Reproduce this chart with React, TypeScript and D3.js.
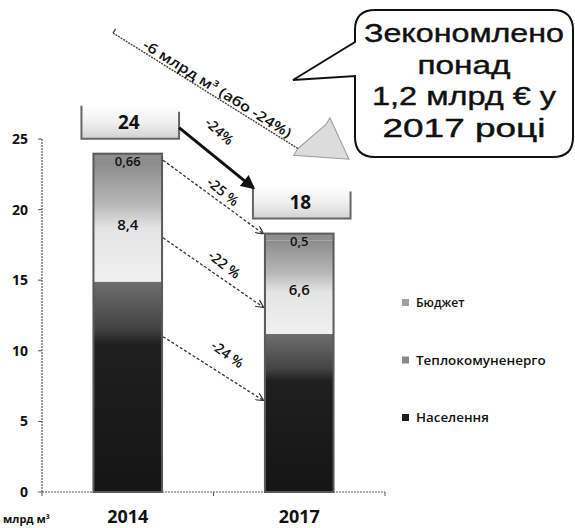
import React from 'react'
import * as d3 from 'd3'

// data (млрд м³)
const years = ['2014', '2017']
const totalLabels = ['24', '18']
const naselennia = [14.9, 11.2]
const teplokomunenergo = [8.4, 6.6]
const biudzhet = [0.66, 0.5]
const teploLabels = ['8,4', '6,6']
const biudzhetLabels = ['0,66', '0,5']
const legendNames = ['Бюджет', 'Теплокомуненерго', 'Населення']
const yTicks = [0, 5, 10, 15, 20, 25]
const arrowFrom = [23.5, 18.0, 11.0]
const arrowTo = [18.3, 13.1, 6.5]
const arrowLabels = ['-25 %', '-22 %', '-24 %']
const totalChangeLabel = '-24%'
const bigArrowText = '-6 млрд м³ (або -24%)'
const calloutLines = ['Зекономлено', 'понад', '1,2 млрд € у', '2017 році']
const unitLabel = 'млрд м³'

// layout
const W = 575
const H = 528
const arrowLabelLift = [8, 11, 18]
const calloutWidths = [200, 93, 184, 163]
const sans = "'Open Sans', 'Noto Sans', sans-serif"
const arial = "'Liberation Sans', Arial, sans-serif"

const keys = ['Населення', 'Теплокомуненерго', 'Бюджет']
const fills: Record<string, string> = {
  Населення: 'url(#gNas)',
  Теплокомуненерго: 'url(#gTep)',
  Бюджет: '#8e8e8e'
}
const legendColors: Record<string, string> = {
  Бюджет: '#a0a0a0',
  Теплокомуненерго: '#8a8a8a',
  Населення: '#1c1c1c'
}

export default function App() {
  const x = d3.scaleBand<string>().domain(years).range([42, 385]).paddingInner(0.6).paddingOuter(0.3)
  const y = d3.scaleLinear().domain([0, 25]).range([492, 139])
  const bw = x.bandwidth()

  const rows = years.map((year, i) => ({
    year,
    Населення: naselennia[i],
    Теплокомуненерго: teplokomunenergo[i],
    Бюджет: biudzhet[i]
  }))
  const series = d3.stack<any>().keys(keys)(rows)

  const legendY = d3.scalePoint<string>().domain(legendNames).range([303, 418])

  // boxes with totals
  const boxes = years.map((yr, i) => {
    const left = (x(yr) as number) - 12
    const right = (x(yr) as number) + bw + 17
    const bottom = y(series[2][i][1]) - 15
    return { left, right, bottom, top: bottom - 33 }
  })

  const x0 = (x(years[0]) as number) + bw + 1
  const x1 = (x(years[1]) as number) - 2

  // big arrow head (local, rotated frame)
  const bigHead = d3.line()([[218, 0], [218, 8], [267, -18], [229, -43], [229, -35]]) + 'Z'

  return (
    <svg width={W} height={H} style={{ position: 'absolute', left: 0, top: 0, background: '#fff' }}>
      <defs>
        <linearGradient id="gNas" x1="0" y1="0" x2="0" y2="1">
          <stop offset="0" stopColor="#6e6e6e" />
          <stop offset="0.22" stopColor="#444" />
          <stop offset="0.3" stopColor="#1f1f1f" />
          <stop offset="1" stopColor="#151515" />
        </linearGradient>
        <linearGradient id="gTep" x1="0" y1="0" x2="0" y2="1">
          <stop offset="0" stopColor="#8c8c8c" />
          <stop offset="0.35" stopColor="#b8b8b8" />
          <stop offset="0.55" stopColor="#e4e4e4" />
          <stop offset="1" stopColor="#f0f0f0" />
        </linearGradient>
        <linearGradient id="gBox" x1="0" y1="0" x2="0" y2="1">
          <stop offset="0" stopColor="#fff" />
          <stop offset="0.5" stopColor="#f0f0f0" />
          <stop offset="1" stopColor="#d2d2d2" />
        </linearGradient>
        <marker id="openHead" viewBox="0 0 10 10" refX="9" refY="5" markerWidth="8" markerHeight="8" orient="auto" markerUnits="userSpaceOnUse">
          <path d="M0,0 L10,5 L0,10" fill="none" stroke="#333" strokeWidth="1.5" />
        </marker>
        <marker id="solidHead" viewBox="0 0 10 10" refX="8" refY="5" markerWidth="16" markerHeight="14" orient="auto" markerUnits="userSpaceOnUse">
          <path d="M0,0 L10,5 L0,10 Z" fill="#111" />
        </marker>
      </defs>

      {/* y axis */}
      <line x1={42} x2={42} y1={y(25)} y2={y(0)} stroke="#555" strokeWidth={1.2} strokeDasharray="2,1" />
      {yTicks.map(t => (
        <g key={t}>
          <line x1={38} x2={42} y1={y(t)} y2={y(t)} stroke="#555" />
          <text x={28} y={y(t) + 5} textAnchor="end" fontFamily={sans} fontWeight={700} fontSize={14} fill="#111">{t}</text>
        </g>
      ))}

      {/* x axis */}
      <line x1={42} x2={385} y1={y(0)} y2={y(0)} stroke="#555" strokeWidth={1.2} strokeDasharray="2,1" />
      {[42, 42 + x.step(), 385].map(v => (
        <line key={v} x1={v} x2={v} y1={y(0)} y2={y(0) + 4} stroke="#555" />
      ))}
      {years.map(yr => (
        <text key={yr} x={(x(yr) as number) + bw / 2} y={523} textAnchor="middle" fontFamily={sans} fontWeight={700} fontSize={18} textLength={41} lengthAdjust="spacingAndGlyphs" fill="#111">{yr}</text>
      ))}
      <text x={3} y={523} fontFamily={sans} fontWeight={700} fontSize={11} fill="#111">{unitLabel}</text>

      {/* bars */}
      {series.map(s => (
        <g key={s.key}>
          {s.map((d, i) => (
            <rect key={i} x={x(years[i])} width={bw} y={y(d[1])} height={y(d[0]) - y(d[1])} fill={fills[s.key]} />
          ))}
        </g>
      ))}
      {years.map((yr, i) => {
        const top = series[2][i][1]
        return (
          <rect key={yr} x={x(yr)} width={bw} y={y(top)} height={y(0) - y(top)} fill="none" stroke="#5a5a5a" strokeWidth={2} />
        )
      })}

      {/* segment labels */}
      {years.map((yr, i) => {
        const cx = (x(yr) as number) + bw / 2
        const tep = series[1][i]
        const bud = series[2][i]
        return (
          <g key={yr} fontFamily={sans} fontWeight={600} fill="#111" textAnchor="middle">
            <text x={cx} y={(y(tep[0]) + y(tep[1])) / 2 + 8} fontSize={15}>{teploLabels[i]}</text>
            <text x={cx} y={y(bud[1]) + 12} fontSize={13}>{biudzhetLabels[i]}</text>
          </g>
        )
      })}

      {/* total boxes */}
      {boxes.map((b, i) => (
        <g key={i}>
          <rect x={b.left} y={b.top} width={b.right - b.left} height={b.bottom - b.top} fill="url(#gBox)" />
          <path d={`M${b.left},${b.top} V${b.bottom} H${b.right} V${b.top + 6}`} fill="none" stroke="#666" strokeWidth={2} />
          <text x={(x(years[i]) as number) + bw / 2 + 1} y={b.bottom - 10} textAnchor="middle" fontFamily={sans} fontWeight={700} fontSize={19} fill="#111">{totalLabels[i]}</text>
        </g>
      ))}

      {/* dashed arrows between segments */}
      {arrowFrom.map((v, i) => {
        const ya = y(v)
        const yb = y(arrowTo[i])
        const ang = Math.atan2(yb - ya, x1 - x0)
        const mx = (x0 + x1) / 2 + Math.sin(ang) * arrowLabelLift[i]
        const my = (ya + yb) / 2 - Math.cos(ang) * arrowLabelLift[i]
        return (
          <g key={i}>
            <line x1={x0} y1={ya} x2={x1} y2={yb} stroke="#333" strokeWidth={1.3} strokeDasharray="3,2" markerEnd="url(#openHead)" />
            <text transform={`translate(${mx + 2},${my + 5}) rotate(${(ang * 180) / Math.PI + 3})`} textAnchor="middle" fontFamily={sans} fontWeight={600} fontSize={14} fill="#111">{arrowLabels[i]}</text>
          </g>
        )
      })}

      {/* total change arrow */}
      <line x1={boxes[0].right} y1={boxes[0].bottom - 11} x2={boxes[1].left} y2={boxes[1].top + 2} stroke="#111" strokeWidth={3} markerEnd="url(#solidHead)" />
      <text transform={`translate(216,135) rotate(42)`} textAnchor="middle" fontFamily={sans} fontWeight={600} fontSize={14} fill="#111">{totalChangeLabel}</text>

      {/* big arrow */}
      <g transform="translate(113,33) rotate(32)">
        <path d={bigHead} fill="#dcdcdc" stroke="#9a9a9a" strokeWidth={1} />
        <line x1={0} y1={0} x2={218} y2={0} stroke="#444" strokeWidth={1.4} strokeDasharray="2,1" />
        <line x1={0} y1={0} x2={0} y2={-5} stroke="#444" strokeWidth={1.4} />
        <text x={32} y={-3} fontFamily={sans} fontWeight={600} fontSize={14} textLength={172} lengthAdjust="spacingAndGlyphs" fill="#111">{bigArrowText}</text>
      </g>

      {/* callout */}
      <path d="M375,10 H553 Q573,10 573,30 V137 Q573,157 553,157 H375 Q355,157 355,137 V76 L293,80 L355,42 V30 Q355,10 375,10 Z" fill="#fff" stroke="#111" strokeWidth={2} />
      {calloutLines.map((line, i) => (
        <text key={i} x={464} y={42 + i * 31.7} textAnchor="middle" fontFamily={arial} fontSize={25} stroke="#111" strokeWidth={0.4} textLength={calloutWidths[i]} lengthAdjust="spacingAndGlyphs" fill="#111">{line}</text>
      ))}

      {/* legend */}
      {legendNames.map(name => (
        <g key={name} transform={`translate(402,${legendY(name)})`}>
          <rect x={0} y={-4} width={7} height={7} fill={legendColors[name]} />
          <text x={14} y={4} fontFamily={sans} fontWeight={600} fontSize={13} textLength={name.length * 8.1} lengthAdjust="spacingAndGlyphs" fill="#111">{name}</text>
        </g>
      ))}
    </svg>
  )
}
